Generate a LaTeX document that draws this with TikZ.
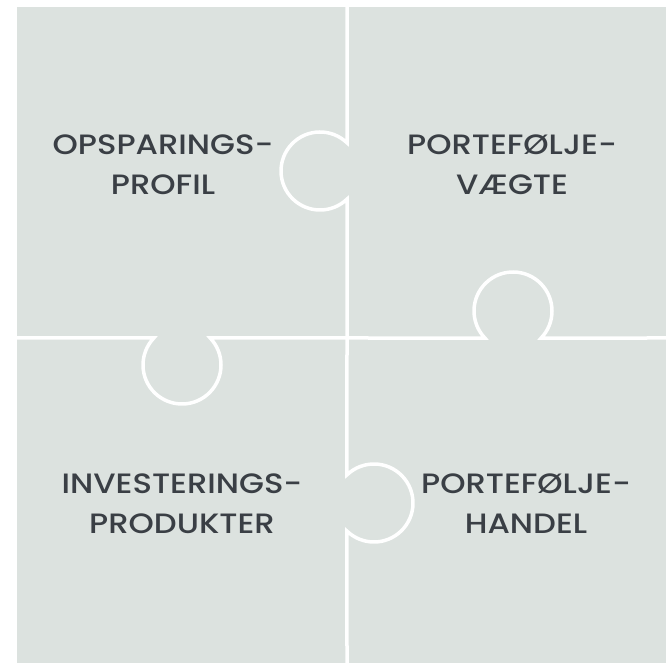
\documentclass[tikz,border=0pt]{standalone}
\usepackage{fontspec}
\setmainfont{Poppins}[UprightFont=* Medium, FakeStretch=1.15]
\usetikzlibrary{calc}
\definecolor{tile}{HTML}{DCE2DF}
\definecolor{ink}{HTML}{3A3F45}
\tikzset{
  seam/.style={draw=white, line width=3.5pt},
  label/.style={align=center, text=ink, inner sep=0pt, font=\fontsize{28}{40}\selectfont}
}
\begin{document}
\begin{tikzpicture}[x=1pt,y=1pt]
\useasboundingbox (0,0) rectangle (666,663);
\fill[tile] (17,0) rectangle (666,656);
\coordinate (c1) at (320,492);
\coordinate (c4) at (374,160);
\coordinate (c3) at (182,298);
\coordinate (c2) at (513,352);
\coordinate (vt) at (347,656);
\coordinate (vb) at (347,0);
\coordinate (hl) at (17,325);
\coordinate (hr) at (666,325);
\draw[seam] (vt) -- ($(c1)+(46.1:39)$) arc[start angle=46.1, end angle=313.9, radius=39]
  -- ($(c4)+(133.9:39)$) arc[start angle=133.9, end angle=-133.9, radius=39] -- (vb);
\draw[seam] (hl) -- ($(c3)+(136.1:39)$) arc[start angle=136.1, end angle=403.9, radius=39]
  -- ($(c2)+(223.9:39)$) arc[start angle=223.9, end angle=-43.9, radius=39] -- (hr);
\node[label] (t1) at (163,498) {OPSPARINGS-\\PROFIL};
\node[label] (t2) at (512,498) {PORTEFØLJE-\\VÆGTE};
\node[label] (t3) at (182,159) {INVESTERINGS-\\PRODUKTER};
\node[label] (t4) at (526,159) {PORTEFØLJE-\\HANDEL};
\end{tikzpicture}
\end{document}
